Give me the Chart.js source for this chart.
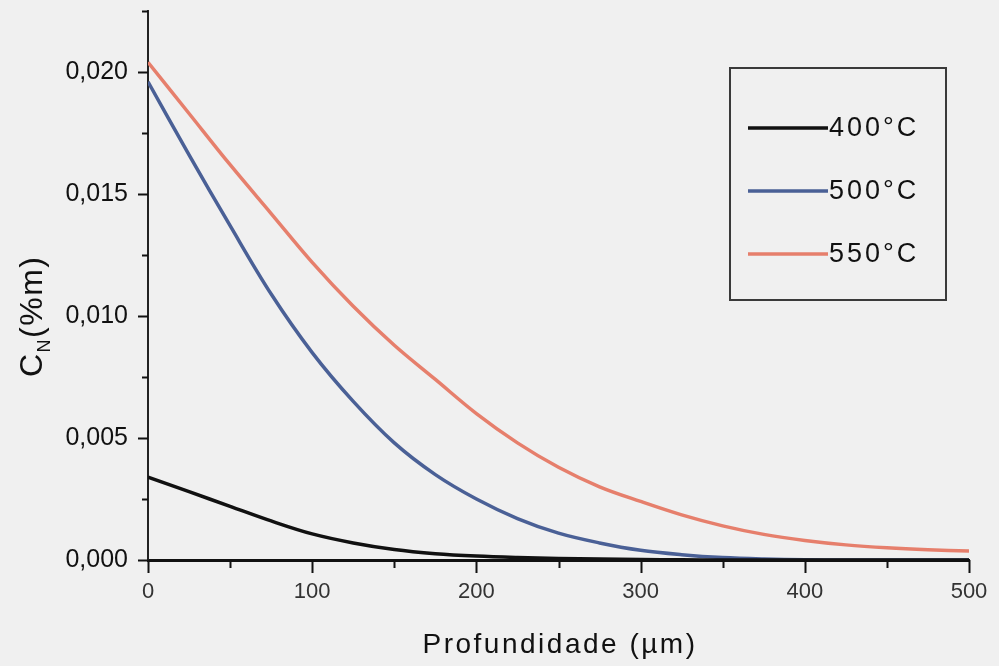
<!DOCTYPE html>
<html>
<head>
<meta charset="utf-8">
<title>Perfil de nitrogênio</title>
<script src="https://cdn.jsdelivr.net/npm/chart.js@4.4.1/dist/chart.umd.min.js"></script>
<style>
  html, body { margin: 0; padding: 0; background: #f0f0f0; }
  #wrap { width: 999px; height: 666px; }
</style>
</head>
<body>
<div id="wrap"><canvas id="chart" width="999" height="666"></canvas></div>
<script>
// depth (µm) and nitrogen content (% mass) for each treatment temperature
const depth = [0, 25, 50, 75, 100, 125, 150, 175, 200, 225, 250, 275, 300, 325, 350, 375, 400, 425, 450, 475, 500];
const c400 = [0.0034, 0.0028, 0.0022, 0.0016, 0.00107, 0.0007, 0.00043, 0.00026, 0.00016, 0.0001, 0.00006, 0.00004, 0.00002, 0.00001, 0, 0, 0, 0, 0, 0, 0];
const c500 = [0.0196, 0.0166, 0.0137, 0.0109, 0.0085, 0.0065, 0.0048, 0.0035, 0.0025, 0.0017, 0.0011, 0.0007, 0.0004, 0.00022, 0.0001, 0.00004, 0.00001, 0, 0, 0, 0];
const c550 = [0.0204, 0.0183, 0.0162, 0.0142, 0.0122, 0.0104, 0.0088, 0.0074, 0.0060, 0.0048, 0.0038, 0.0030, 0.0024, 0.00185, 0.0014, 0.00105, 0.0008, 0.00062, 0.0005, 0.00042, 0.00037];

const seriesNames = ['400°C', '500°C', '550°C'];
const seriesColors = ['#111111', '#4a6096', '#e67f6c'];

const xMajorTicks = [0, 100, 200, 300, 400, 500];
const yMajorTicks = [0, 0.005, 0.010, 0.015, 0.020];

const FONT = '"Liberation Sans", Arial, sans-serif';

const isMajor = (list, v) => list.some(m => Math.abs(m - v) < 1e-9);
const points = vals => vals.map((v, i) => ({ x: depth[i], y: v }));

// outward major/minor tick marks on both axes
const tickMarks = {
  id: 'tickMarks',
  afterDatasetsDraw(chart) {
    const { ctx, chartArea: a, scales: { x, y } } = chart;
    ctx.save();
    ctx.strokeStyle = '#111';
    ctx.lineWidth = 2;
    x.ticks.forEach(t => {
      const px = Math.round(x.getPixelForValue(t.value)) + 0.5;
      const len = isMajor(xMajorTicks, t.value) ? 13 : 8;
      ctx.beginPath();
      ctx.moveTo(px, a.bottom);
      ctx.lineTo(px, a.bottom + len);
      ctx.stroke();
    });
    y.ticks.forEach(t => {
      const py = Math.round(y.getPixelForValue(t.value)) + 0.5;
      const len = isMajor(yMajorTicks, t.value) ? 10 : 6;
      ctx.beginPath();
      ctx.moveTo(a.left, py);
      ctx.lineTo(a.left - len, py);
      ctx.stroke();
    });
    ctx.restore();
  }
};

// axis titles (subscript on the y title) and the boxed legend
const annotations = {
  id: 'annotations',
  afterDraw(chart) {
    const { ctx } = chart;
    ctx.save();
    ctx.fillStyle = '#111';

    // x title
    ctx.font = '28px ' + FONT;
    ctx.letterSpacing = '2.5px';
    ctx.textAlign = 'center';
    ctx.textBaseline = 'alphabetic';
    ctx.fillText('Profundidade (µm)', 560, 653);

    // y title, rotated
    ctx.save();
    ctx.translate(42, 315);
    ctx.rotate(-Math.PI / 2);
    ctx.textAlign = 'left';
    ctx.letterSpacing = '1.5px';
    let cx = -62;
    ctx.font = '32px ' + FONT;
    ctx.fillText('C', cx, 0);
    cx += ctx.measureText('C').width;
    ctx.font = '18px ' + FONT;
    ctx.fillText('N', cx, 8);
    cx += ctx.measureText('N').width;
    ctx.font = '32px ' + FONT;
    ctx.fillText('(%m)', cx, 0);
    ctx.restore();

    // legend box
    ctx.letterSpacing = '3px';
    ctx.strokeStyle = '#3a3a3a';
    ctx.lineWidth = 2;
    ctx.strokeRect(730, 68, 216, 232);
    ctx.font = '27px ' + FONT;
    ctx.textAlign = 'left';
    ctx.textBaseline = 'middle';
    chart.data.datasets.forEach((ds, i) => {
      const ly = 128 + i * 63;
      ctx.strokeStyle = ds.borderColor;
      ctx.lineWidth = 3.5;
      ctx.beginPath();
      ctx.moveTo(748, ly);
      ctx.lineTo(828, ly);
      ctx.stroke();
      ctx.fillStyle = '#111';
      ctx.fillText(ds.label, 829, ly + 1);
    });
    ctx.restore();
  }
};

const datasets = [c400, c500, c550].map((vals, i) => ({
  label: seriesNames[i],
  data: points(vals),
  borderColor: seriesColors[i],
  borderWidth: 3.5,
  pointRadius: 0,
  tension: 0.35,
  fill: false
}));

new Chart(document.getElementById('chart'), {
  type: 'line',
  data: { datasets },
  options: {
    responsive: false,
    animation: false,
    devicePixelRatio: 1,
    layout: { padding: { top: 11, right: 30, left: 0, bottom: 0 } },
    plugins: { legend: { display: false }, tooltip: { enabled: false } },
    scales: {
      x: {
        type: 'linear',
        min: 0,
        max: 500,
        grid: { display: false, drawTicks: false },
        border: { display: true, color: '#111', width: 3 },
        ticks: {
          stepSize: 50,
          padding: 19,
          maxRotation: 0,
          autoSkip: false,
          color: '#333',
          font: { family: FONT, size: 22 },
          callback: v => isMajor(xMajorTicks, v) ? String(v) : ''
        },
        afterFit: s => { s.height = 106; s.paddingLeft = 0; s.paddingRight = 0; }
      },
      y: {
        min: 0,
        max: 0.0225,
        grid: { display: false, drawTicks: false },
        border: { display: true, color: '#222', width: 2 },
        ticks: {
          stepSize: 0.0025,
          padding: 20,
          autoSkip: false,
          color: '#111',
          font: { family: FONT, size: 25 },
          callback: v => isMajor(yMajorTicks, v) ? v.toFixed(3).replace('.', ',') : ''
        },
        afterFit: s => { s.width = 148; s.paddingTop = 0; s.paddingBottom = 0; }
      }
    }
  },
  plugins: [tickMarks, annotations]
});
</script>
</body>
</html>
